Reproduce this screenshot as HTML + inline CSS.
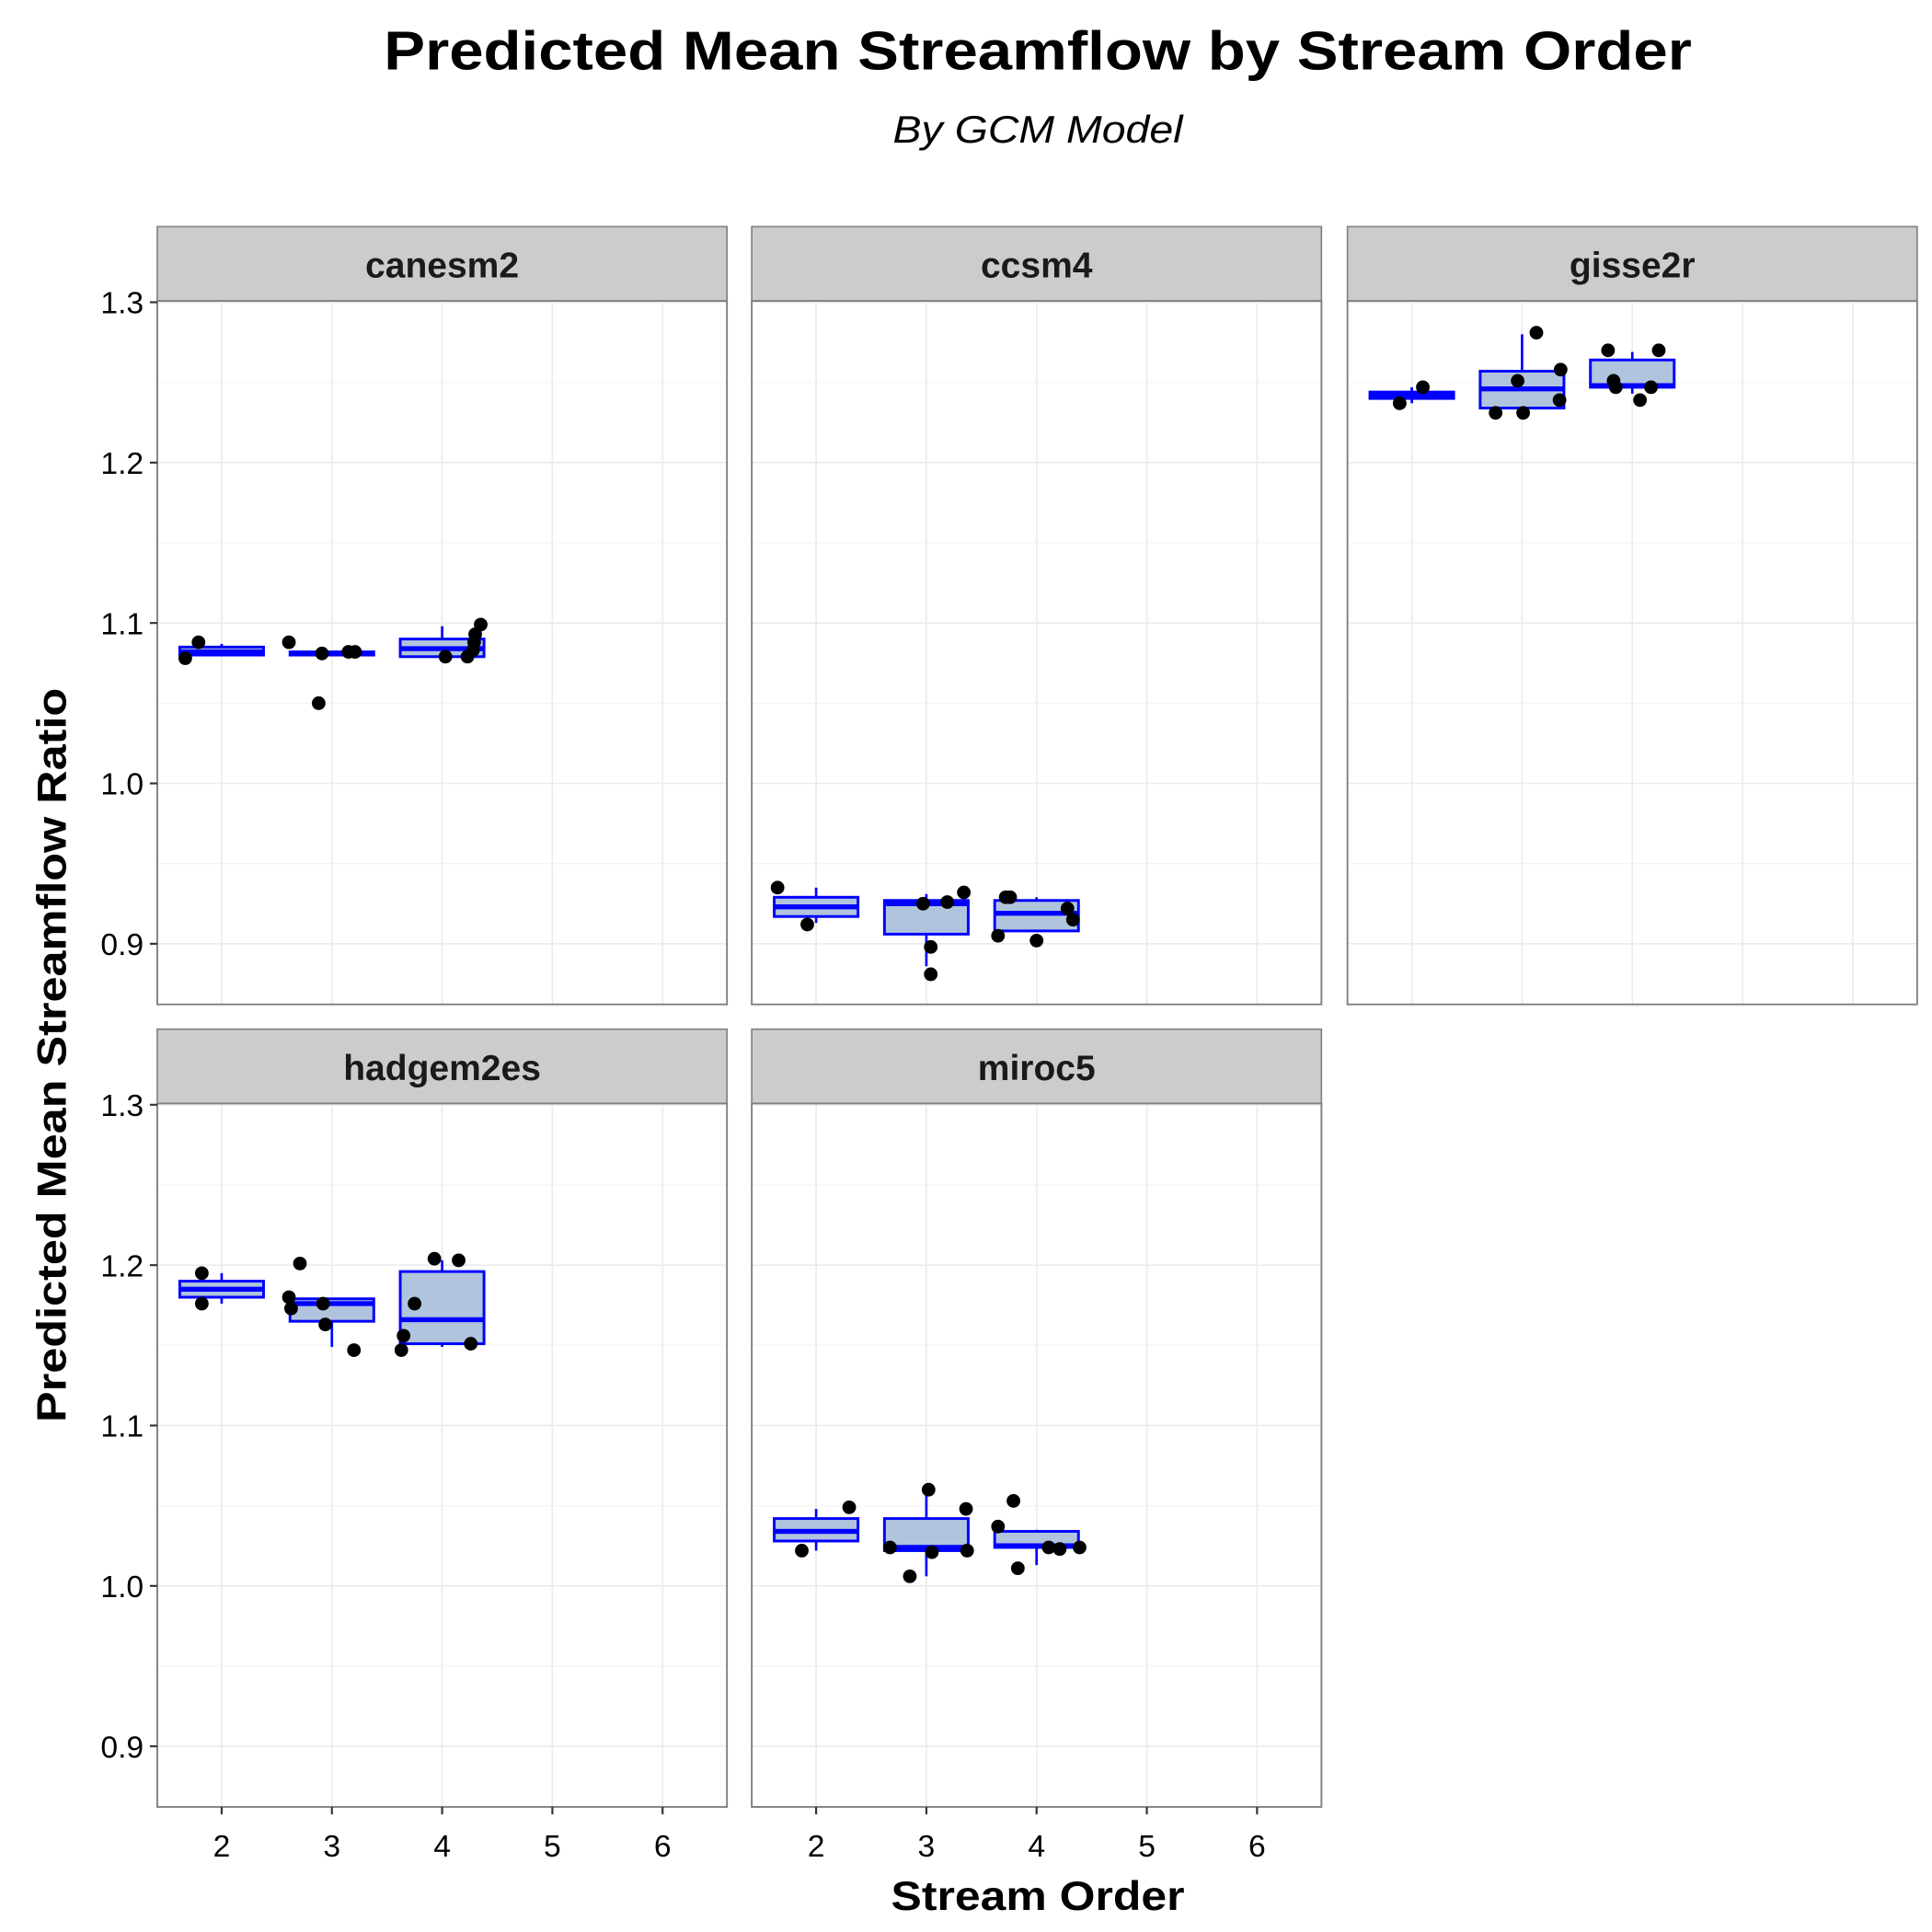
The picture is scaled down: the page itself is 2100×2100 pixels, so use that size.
<!DOCTYPE html>
<html><head><meta charset="utf-8"><style>html,body{margin:0;padding:0;background:#fff}svg{display:block}text{font-family:"Liberation Sans",Arial,sans-serif}</style></head>
<body>
<svg id="chart" xmlns="http://www.w3.org/2000/svg" width="2100" height="2100" viewBox="0 0 1560 1560">
<rect width="1560" height="1560" fill="#fff"/>
<text x="838" y="56" font-size="44" font-weight="bold" text-anchor="middle" textLength="1056" lengthAdjust="spacingAndGlyphs">Predicted Mean Streamflow by Stream Order</text>
<text x="838" y="115" font-size="31" font-style="italic" text-anchor="middle" textLength="234" lengthAdjust="spacingAndGlyphs">By GCM Model</text>
<text transform="translate(53,852) rotate(-90)" font-size="33" font-weight="bold" text-anchor="middle" textLength="593" lengthAdjust="spacingAndGlyphs">Predicted Mean Streamflow Ratio</text>
<text x="838" y="1542" font-size="33" font-weight="bold" text-anchor="middle" textLength="237" lengthAdjust="spacingAndGlyphs">Stream Order</text>
<g id="panels"></g>
</svg>
<script>
const models = ["canesm2","ccsm4","gisse2r","hadgem2es","miroc5"];
const orders = [2,3,4];
const yTicks = [0.9,1.0,1.1,1.2,1.3];
const yTickLabels = ["0.9","1.0","1.1","1.2","1.3"];
const xTicks = [2,3,4,5,6];
// box stats per model per order: [whiskerLow, q1, median, q3, whiskerHigh]
const boxCanesm2 = [[1.080,1.080,1.082,1.085,1.087],[1.080,1.080,1.081,1.082,1.082],[1.079,1.079,1.084,1.090,1.098]];
const boxCcsm4 = [[0.913,0.917,0.923,0.929,0.935],[0.886,0.906,0.925,0.927,0.931],[0.908,0.908,0.919,0.927,0.929]];
const boxGisse2r = [[1.237,1.240,1.242,1.244,1.247],[1.234,1.234,1.246,1.257,1.280],[1.243,1.247,1.248,1.264,1.269]];
const boxHadgem2es = [[1.176,1.180,1.185,1.190,1.195],[1.149,1.165,1.176,1.179,1.179],[1.149,1.151,1.166,1.196,1.203]];
const boxMiroc5 = [[1.022,1.028,1.034,1.042,1.048],[1.006,1.022,1.024,1.042,1.059],[1.013,1.024,1.025,1.034,1.035]];
// jittered points: [stream order offset, value]
const ptsCanesm2 = [[1.67,1.078],[1.79,1.088],[2.61,1.088],[2.88,1.050],[2.91,1.081],[3.15,1.082],[3.21,1.082],[4.03,1.079],[4.23,1.079],[4.28,1.083],[4.30,1.093],[4.35,1.099],[4.29,1.088]];
const ptsCcsm4 = [[1.65,0.935],[1.92,0.912],[2.97,0.925],[3.04,0.898],[3.04,0.881],[3.19,0.926],[3.34,0.932],[3.65,0.905],[3.72,0.929],[3.76,0.929],[4.0,0.902],[4.28,0.922],[4.33,0.915]];
const ptsGisse2r = [[1.89,1.237],[2.10,1.247],[2.76,1.231],[3.01,1.231],[2.96,1.251],[3.13,1.281],[3.35,1.258],[3.34,1.239],[3.78,1.270],[3.83,1.251],[3.85,1.247],[4.07,1.239],[4.17,1.247],[4.24,1.270]];
const ptsHadgem2es = [[1.82,1.195],[1.82,1.176],[2.61,1.180],[2.63,1.173],[2.71,1.201],[2.92,1.176],[2.94,1.163],[3.20,1.147],[3.63,1.147],[3.65,1.156],[3.75,1.176],[3.93,1.204],[4.15,1.203],[4.26,1.151]];
const ptsMiroc5 = [[1.87,1.022],[2.30,1.049],[2.67,1.024],[2.85,1.006],[3.02,1.060],[3.05,1.021],[3.36,1.048],[3.37,1.022],[3.65,1.037],[3.79,1.053],[3.83,1.011],[4.11,1.024],[4.21,1.023],[4.39,1.024]];
const allBoxes = [boxCanesm2,boxCcsm4,boxGisse2r,boxHadgem2es,boxMiroc5];
const allPts = [ptsCanesm2,ptsCcsm4,ptsGisse2r,ptsHadgem2es,ptsMiroc5];

const NS="http://www.w3.org/2000/svg";
const root=document.getElementById('panels');
function mk(tag,attrs,parent){const e=document.createElementNS(NS,tag);for(const k in attrs)e.setAttribute(k,attrs[k]);(parent||root).appendChild(e);return e;}
const colX=[127,607,1088], rowY=[183,831], PW=460, STRIP=60, PH=628;
const yMin=0.8622, yMax=1.3008;
const X0=1.416, X1=6.584;
models.forEach((m,i)=>{
  const cx=colX[i%3], top=rowY[Math.floor(i/3)];
  const bt=top+STRIP, bb=top+PH;
  const sx=v=>cx+(v-X0)/(X1-X0)*PW;
  const sy=v=>bt+(yMax-v)/(yMax-yMin)*(bb-bt);
  const g=mk('g',{});
  
  
  const strip=mk('rect',{x:cx,y:top,width:PW,height:STRIP,fill:'#cccccc',stroke:'#7f7f7f','stroke-width':1.2},g);
  
  
  const st=mk('text',{x:cx+PW/2,y:top+41,'font-size':29,'font-weight':'bold','text-anchor':'middle',fill:'#1a1a1a'},g);
  st.textContent=m;
  
  
  for(let v=0.85;v<1.36;v+=0.1){const y=sy(v);if(y>bt&&y<bb)mk('line',{x1:cx,x2:cx+PW,y1:y,y2:y,stroke:'#f5f5f5','stroke-width':1},g);}
  yTicks.forEach(v=>{const y=sy(v);const l=mk('line',{x1:cx,x2:cx+PW,y1:y,y2:y,stroke:'#ebebeb','stroke-width':1.2},g);});
  xTicks.forEach(v=>{const x=sx(v);const l=mk('line',{x1:x,x2:x,y1:bt,y2:bb,stroke:'#ebebeb','stroke-width':1.2},g);});
  allBoxes[i].forEach((b,j)=>{
    const o=orders[j], xl=sx(o-0.38), xr=sx(o+0.38), xc=sx(o);
    const bg=mk('g',{},g);
    
    
    mk('line',{x1:xc,x2:xc,y1:sy(b[0]),y2:sy(b[4]),stroke:'#0000ff','stroke-width':2},bg);
    mk('rect',{x:xl,y:sy(b[3]),width:xr-xl,height:Math.max(0.5,sy(b[1])-sy(b[3])),fill:'#b0c4de',stroke:'#0000ff','stroke-width':2.2},bg);
    mk('line',{x1:xl,x2:xr,y1:sy(b[2]),y2:sy(b[2]),stroke:'#0000ff','stroke-width':4},bg);
  });
  allPts[i].forEach(p=>{
    const c=mk('circle',{cx:sx(p[0]),cy:sy(p[1]),r:5.5,fill:'#000'},g);
    
    
  });
  mk('rect',{x:cx,y:bt,width:PW,height:bb-bt,fill:'none',stroke:'#7f7f7f','stroke-width':1.4},g);
  if(i%3===0){
    yTicks.forEach((v,k)=>{const y=sy(v);
      mk('line',{x1:cx-6,x2:cx,y1:y,y2:y,stroke:'#333','stroke-width':1.6},g);
      const t=mk('text',{x:cx-11,y:y+9,'font-size':25,'text-anchor':'end',fill:'#000'},g);
      t.textContent=yTickLabels[k];
      
      });
  }
  if(i>=3){
    xTicks.forEach(v=>{const x=sx(v);
      mk('line',{x1:x,x2:x,y1:bb,y2:bb+6,stroke:'#333','stroke-width':1.6},g);
      const t=mk('text',{x:x,y:bb+40,'font-size':25,'text-anchor':'middle',fill:'#000'},g);
      t.textContent=String(v);
      
      });
  }
});
</script>
</body></html>
